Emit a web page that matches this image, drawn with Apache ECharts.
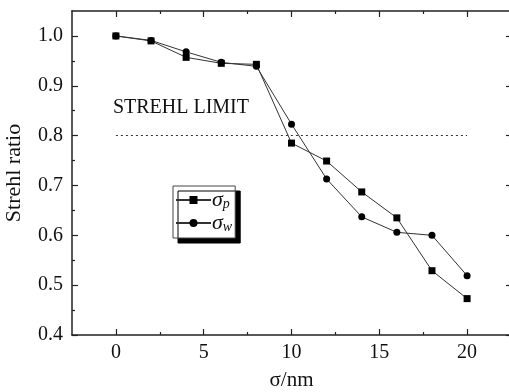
<!DOCTYPE html>
<html>
<head>
<meta charset="utf-8">
<script src="https://cdn.jsdelivr.net/npm/echarts@6/dist/echarts.min.js"></script>
<style>
  html, body { margin: 0; padding: 0; background: #fff; }
  #ec { width: 509px; height: 392px; }
</style>
</head>
<body>
<div id="ec"></div>
<script>
// values
const sigmaNm = [0, 2, 4, 6, 8, 10, 12, 14, 16, 18, 20];
const strehlP = [1.0, 0.990, 0.957, 0.945, 0.943, 0.785, 0.749, 0.687, 0.635, 0.529, 0.473];
const strehlW = [1.0, 0.991, 0.968, 0.947, 0.939, 0.823, 0.713, 0.637, 0.606, 0.600, 0.519];
const strehlLimit = 0.8;

const xMajor = [0, 5, 10, 15, 20];
const xMinor = [2.5, 7.5, 12.5, 17.5];
const yMajor = [0.4, 0.5, 0.6, 0.7, 0.8, 0.9, 1.0];
const yMinor = [0.45, 0.55, 0.65, 0.75, 0.85, 0.95];

const serif = "Liberation Serif";
const ink = "#222";

function pairs(ys) {
  return sigmaNm.map((x, i) => [x, ys[i]]);
}

// one axis per side + tick kind, so major/minor ticks get different lengths
function xAx(pos, ticks, len, withLabels, withLine) {
  return {
    type: "value", position: pos, min: -2.5, max: 22.5,
    axisLine: { show: withLine, onZero: false, lineStyle: { color: ink, width: 1.5 } },
    axisTick: { show: true, inside: true, length: len, customValues: ticks, lineStyle: { color: ink, width: 1.2 } },
    axisLabel: withLabels
      ? { show: true, customValues: ticks, margin: 8, fontFamily: serif, fontSize: 20, color: "#111" }
      : { show: false },
    splitLine: { show: false },
  };
}
function yAx(pos, ticks, len, withLabels, withLine) {
  return {
    type: "value", position: pos, min: 0.4, max: 1.05,
    axisLine: { show: withLine, onZero: false, lineStyle: { color: ink, width: 1.5 } },
    axisTick: { show: true, inside: true, length: len, customValues: ticks, lineStyle: { color: ink, width: 1.2 } },
    axisLabel: withLabels
      ? { show: true, customValues: ticks, margin: 9, fontFamily: serif, fontSize: 20, color: "#111",
          formatter: (v) => v.toFixed(1) }
      : { show: false },
    splitLine: { show: false },
  };
}

const xMain = xAx("bottom", xMajor, 6, true, true);
xMain.name = "σ/nm";
xMain.nameLocation = "middle";
xMain.nameGap = 35;
xMain.nameTextStyle = { fontFamily: serif, fontSize: 21, color: "#111" };

const yMain = yAx("left", yMajor, 6, true, true);
yMain.name = "Strehl ratio";
yMain.nameLocation = "middle";
yMain.nameGap = 47;
yMain.nameTextStyle = { fontFamily: serif, fontSize: 22, color: "#111" };

const chart = echarts.init(document.getElementById("ec"));
chart.setOption({
  animation: false,
  backgroundColor: "#fff",
  grid: { left: 72, right: -2, top: 11, bottom: 57, outerBoundsMode: "none", containLabel: false },
  xAxis: [
    xMain,
    xAx("bottom", xMinor, 3, false, false),
    xAx("top", xMajor, 6, false, true),
    xAx("top", xMinor, 3, false, false),
  ],
  yAxis: [
    yMain,
    yAx("left", yMinor, 3, false, false),
    yAx("right", yMajor, 5, false, true),
    yAx("right", yMinor, 2, false, false),
  ],
  legend: {
    orient: "vertical",
    left: 173, top: 186,
    padding: [3, 3, 4, 2],
    itemWidth: 35, itemHeight: 10, itemGap: 1,
    backgroundColor: "#fff",
    borderColor: "#444", borderWidth: 1,
    shadowColor: "#000", shadowBlur: 0, shadowOffsetX: 5, shadowOffsetY: 5,
    data: ["σp", "σw"],
    formatter: (name) => "{s|σ}{sub|" + name.slice(1) + "}",
    textStyle: {
      padding: [0, 0, 0, -4],
      rich: {
        s: { fontFamily: serif, fontStyle: "italic", fontSize: 22, color: "#111", lineHeight: 18 },
        sub: { fontFamily: serif, fontStyle: "italic", fontSize: 14, color: "#111", padding: [8, 0, 0, 0], lineHeight: 18 },
      },
    },
  },
  series: [
    {
      name: "σp", type: "line", data: pairs(strehlP),
      symbol: "rect", symbolSize: 7,
      lineStyle: { color: "#333", width: 1 },
      itemStyle: { color: "#000" },
      markLine: {
        silent: true, symbol: "none",
        lineStyle: { type: [2, 3], color: "#333", width: 1 },
        label: {
          show: true, position: "insideStartTop", distance: [-3, 18],
          formatter: "STREHL LIMIT",
          fontFamily: serif, fontSize: 20, color: "#111",
        },
        data: [[{ coord: [sigmaNm[0], strehlLimit] }, { coord: [sigmaNm[sigmaNm.length - 1], strehlLimit] }]],
      },
    },
    {
      name: "σw", type: "line", data: pairs(strehlW),
      symbol: "circle", symbolSize: 7,
      lineStyle: { color: "#333", width: 1 },
      itemStyle: { color: "#000" },
    },
  ],
});
</script>
</body>
</html>
